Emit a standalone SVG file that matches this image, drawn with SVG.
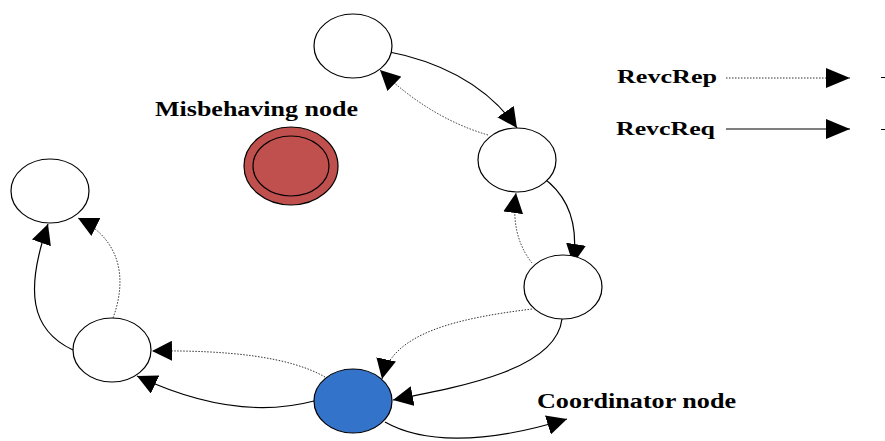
<svg xmlns="http://www.w3.org/2000/svg" width="885" height="441" viewBox="0 0 885 441">
<style>
.node{fill:#fff;stroke:#000;stroke-width:1.2}
.req{fill:none;stroke:#000;stroke-width:1.2}
.rep{fill:none;stroke:#333;stroke-width:1;stroke-dasharray:1.5 1.5}
.lbl{font-family:"Liberation Serif","Times New Roman",serif;font-weight:bold;fill:#000}
</style>
<defs>
<marker id="ah" markerUnits="userSpaceOnUse" markerWidth="20" markerHeight="20" viewBox="0 0 20 20" refX="20" refY="10" orient="auto">
<path d="M0,0 L20,10 L0,20 z" fill="#000"/>
</marker>
<marker id="ahl" markerUnits="userSpaceOnUse" markerWidth="24" markerHeight="20" viewBox="0 0 24 20" refX="24" refY="10" orient="auto">
<path d="M0,0 L24,10 L0,20 z" fill="#000"/>
</marker>
</defs>
<rect width="885" height="441" fill="#fff"/>
<g id="connectors">
<path class="req" d="M385,51 Q475,68 517,128" marker-end="url(#ah)"/>
<path class="rep" d="M488,135 Q430,118 380,70" marker-end="url(#ah)"/>
<path class="req" d="M542,177 Q582,205 573,264" marker-end="url(#ah)"/>
<path class="rep" d="M532,263 Q510,235 516,193" marker-end="url(#ah)"/>
<path class="req" d="M562,319 C556,368 470,385 393,400" marker-end="url(#ah)"/>
<path class="rep" d="M532,309 C460,318 392,332 382,379" marker-end="url(#ah)"/>
<path class="rep" d="M325,377 C290,357 230,350 152,351" marker-end="url(#ah)"/>
<path class="req" d="M314,401 C265,414 205,408 137,376" marker-end="url(#ah)"/>
<path class="req" d="M73,350 C30,330 25,290 48,224" marker-end="url(#ah)"/>
<path class="rep" d="M113,318 C127,280 122,240 78,218" marker-end="url(#ah)"/>
<path class="req" d="M385,422 C420,442 480,446 567,419" marker-end="url(#ah)"/>
</g>
<g id="n1"><ellipse class="node" cx="353" cy="46" rx="39" ry="32"/></g>
<g id="n2"><ellipse class="node" cx="517" cy="160" rx="39" ry="32"/></g>
<g id="n3"><ellipse class="node" cx="563" cy="287" rx="39" ry="32"/></g>
<g id="coordinator"><ellipse cx="353" cy="401" rx="39" ry="32" fill="#3473CA" stroke="#000" stroke-width="1.2"/></g>
<g id="n5"><ellipse class="node" cx="112" cy="350" rx="39" ry="32"/></g>
<g id="n6"><ellipse class="node" cx="50" cy="191" rx="39" ry="32"/></g>
<g id="misbehaving">
<ellipse cx="291" cy="166" rx="47" ry="39" fill="#C0504D" stroke="#000" stroke-width="1.2"/>
<ellipse cx="291" cy="166" rx="38" ry="30" fill="none" stroke="#000" stroke-width="1.2"/>
</g>
<text class="lbl" x="155" y="116" font-size="20" textLength="203" lengthAdjust="spacingAndGlyphs">Misbehaving node</text>
<text class="lbl" x="537" y="408" font-size="20" textLength="199" lengthAdjust="spacingAndGlyphs">Coordinator node</text>
<g id="legend">
<text class="lbl" x="617" y="83" font-size="18" textLength="100" lengthAdjust="spacingAndGlyphs">RevcRep</text>
<text class="lbl" x="616" y="135" font-size="18" textLength="99" lengthAdjust="spacingAndGlyphs">RevcReq</text>
<path class="rep" d="M726,78 L850,78" marker-end="url(#ahl)"/>
<path class="req" d="M726,129 L850,129" marker-end="url(#ahl)"/>
<path d="M881,77.5 L885,77.5 M881,129.5 L885,129.5" stroke="#000" stroke-width="1.2"/>
</g>
</svg>
